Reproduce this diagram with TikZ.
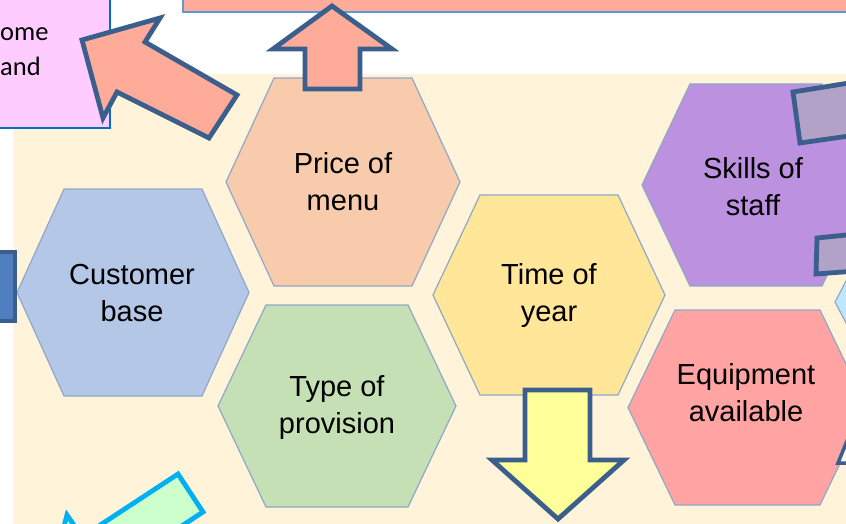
\documentclass[tikz,border=0pt]{standalone}
\usepackage{fontspec}
\setmainfont{Liberation Sans}
\newfontfamily\calib{Carlito}
\definecolor{cream}{HTML}{FFF3D9}
\definecolor{salmon}{HTML}{FFAB99}
\definecolor{arrowedge}{HTML}{3B5F8C}
\definecolor{hexedge}{HTML}{8FA8C8}
\definecolor{pinkbox}{HTML}{FFCCFF}
\definecolor{pinkedge}{HTML}{0070C0}
\definecolor{topedge}{HTML}{5B9BD5}
\definecolor{hexprice}{HTML}{F8CBAD}
\definecolor{hexcust}{HTML}{B4C7E7}
\definecolor{hextype}{HTML}{C5E0B4}
\definecolor{hextime}{HTML}{FFE699}
\definecolor{hexskill}{HTML}{BC91E0}
\definecolor{hexequip}{HTML}{FFA3A3}
\definecolor{hexblue}{HTML}{BDE7FD}
\definecolor{greyrect}{HTML}{B3A2C7}
\definecolor{blockblue}{HTML}{4F7FBF}
\definecolor{yellowarrow}{HTML}{FFFF99}
\definecolor{greenarrow}{HTML}{CCFFCC}
\definecolor{cyanedge}{HTML}{00B0F0}
\tikzset{
  hexbox/.style={draw=hexedge, line width=1.2pt, line join=miter},
  bigarrow/.style={draw=arrowedge, line width=4.8pt, line join=miter},
  hextext/.style={align=center, font=\fontsize{29}{37}\selectfont, text=black, inner sep=0pt},
}
% \hexa{cx}{cy}{halfwidth}{halfheight}{inset}{fill}
\newcommand{\hexa}[6]{%
  \draw[hexbox, fill=#6]
    ({#1-#3},{#2}) -- ({#1-#3+#5},{#2-#4}) -- ({#1+#3-#5},{#2-#4}) --
    ({#1+#3},{#2}) -- ({#1+#3-#5},{#2+#4}) -- ({#1-#3+#5},{#2+#4}) -- cycle;}
\begin{document}
\begin{tikzpicture}[x=1pt,y=-1pt]
\useasboundingbox (0,0) rectangle (846,524);
\clip (0,0) rectangle (846,524);
% background
\fill[white] (0,0) rectangle (846,524);
\fill[cream] (13,74) rectangle (850,530);
% top salmon bar
\draw[fill=salmon, draw=topedge, line width=2pt] (183,-10) rectangle (852,12);
% pink box
\draw[fill=pinkbox, draw=pinkedge, line width=2pt] (-10,-10) rectangle (110,128);
\node[font=\calib\fontsize{26.5}{35}\selectfont, anchor=base west, inner sep=0pt] (ome) at (0,41) {ome};
\node[font=\calib\fontsize{26.5}{35}\selectfont, anchor=base west, inner sep=0pt] (and) at (0,76) {and};
% hexagons
\hexa{343}{182}{117}{104}{48}{hexprice}
\hexa{133}{292.5}{116}{103.5}{47}{hexcust}
\hexa{337}{406}{119}{101}{48}{hextype}
\hexa{549}{295}{116}{100}{47}{hextime}
\hexa{756}{185}{114}{101}{48}{hexskill}
\hexa{747.5}{407.5}{119.5}{97.5}{47}{hexequip}
\draw[hexbox, fill=hexblue] (856,262) -- (835,302) -- (856,342) -- cycle;
% hexagon texts
\node[hextext] (price) at (343,182) {Price of\\menu};
\node[hextext] (cust) at (132,293) {Customer\\base};
\node[hextext] (type) at (337,408) {Type of\\provision};
\node[hextext] (time) at (549,296) {Time of\\year};
\node[hextext] (skill) at (753,187) {Skills of\\staff};
\node[hextext] (equip) at (746,393) {Equipment\\available};
% big salmon arrow (up-left)
\draw[bigarrow, fill=salmon]
  (82,40) -- (160,18) -- (145,42) -- (237,95) -- (209,138) -- (117,92) -- (103,118) -- cycle;
% up arrow
\draw[bigarrow, fill=salmon]
  (332,6) -- (392,49) -- (360,49) -- (360,89) -- (305,89) -- (305,49) -- (273,49) -- cycle;
% down arrow
\draw[bigarrow, fill=yellowarrow]
  (525,390) -- (590,390) -- (590,460) -- (624,460) -- (558,519) -- (492,460) -- (525,460) -- cycle;
% left blue block
\draw[bigarrow, line width=3.5pt, fill=blockblue] (-10,252) rectangle (15,321);
% right grey rectangles
\draw[bigarrow, fill=greyrect] (793,92) -- (800,143) -- (856,135) -- (849,83) -- cycle;
\draw[bigarrow, fill=greyrect] (817,238) -- (816,274) -- (856,271) -- (856,234) -- cycle;
% bottom right small arrow corner
\draw[bigarrow, line width=3.5pt, fill=cream!60!white] (849,436) -- (838,463) -- (856,463);
% green arrow bottom-left
\draw[bigarrow, draw=cyanedge, fill=greenarrow]
  (203,512) -- (178,474) -- (82,537) -- (67,515) -- (48,586) -- (122,597) -- (107,575) -- cycle;
\end{tikzpicture}
\end{document}
